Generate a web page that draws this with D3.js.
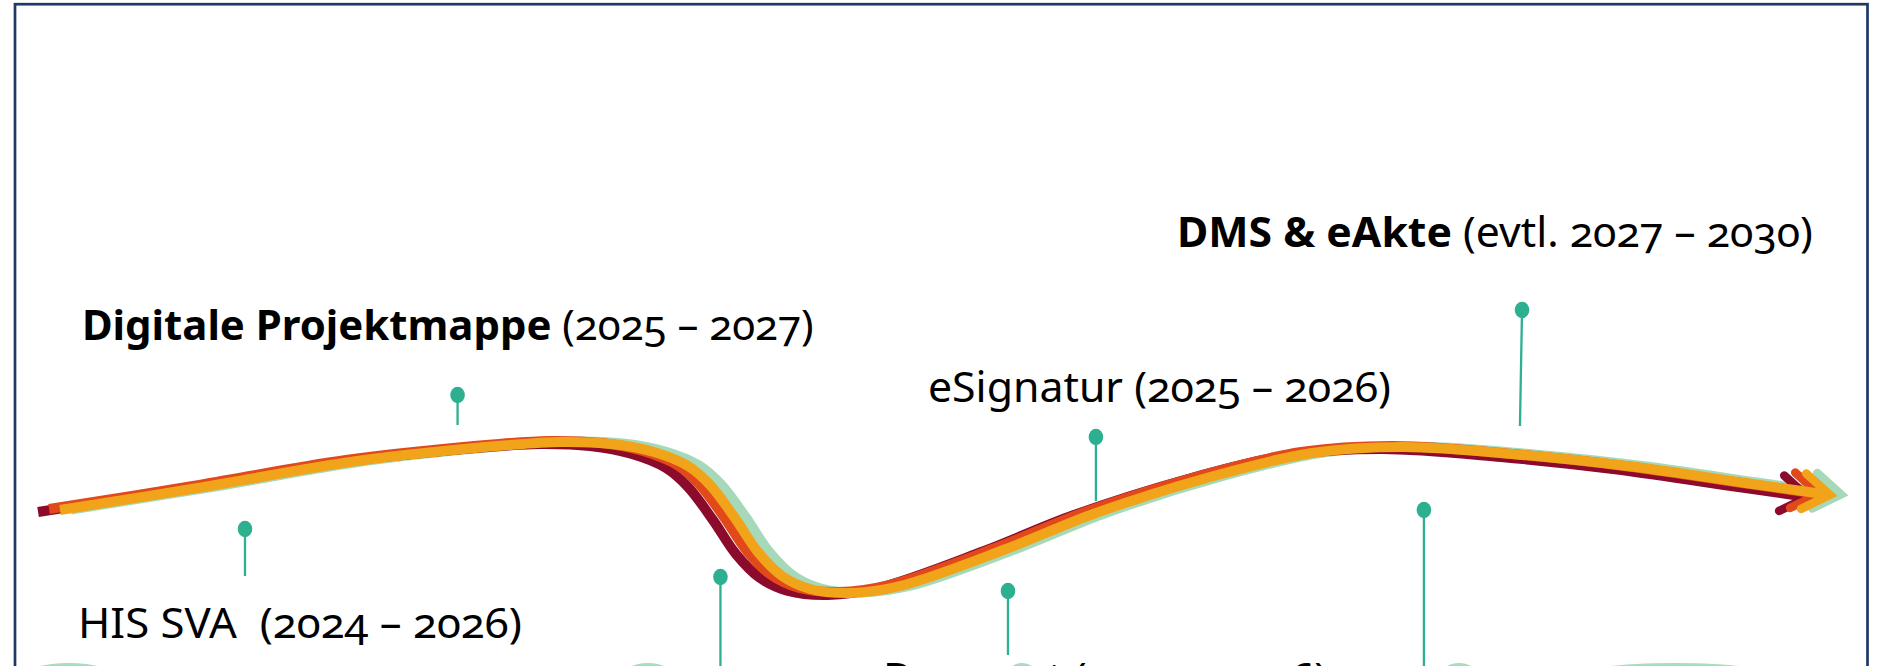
<!DOCTYPE html>
<html lang="de">
<head>
<meta charset="utf-8">
<script src="https://cdn.jsdelivr.net/npm/d3@7/dist/d3.min.js"></script>
<style>
html,body{margin:0;padding:0;background:#fff;overflow:hidden;}
svg{display:block;}
text{font-family:"Noto Sans","Open Sans",Lato,sans-serif;white-space:pre;font-variant-numeric:oldstyle-nums;font-feature-settings:"onum" 1;fill:#000;}
</style>
</head>
<body>
<svg id="chart" width="1883" height="666"></svg>
<script>
// ---------- Data (illustration units: x = 0–100 across the slide, y = 0–100 height) ----------
const roadProgress = [3.19,10.83,18.96,27.08,29.79,32.50,34.73,36.54,37.71,39.03,40.25,41.53,43.02,45.14,47.80,53.43,58.20,64.26,69.68,74.56,80.88,86.83,92.72,97.18];
const roadHeight   = [23.42,26.88,30.78,33.18,33.63,33.33,32.13,30.03,27.18,22.22,17.12,13.51,11.56,10.96,12.01,17.57,22.97,28.38,31.98,32.88,31.68,29.88,27.48,25.68];

const projectNames   = ["Digitale Projektmappe", "eSignatur", "DMS & eAkte", "HIS SVA ", "Dezernat"];
const projectPeriods = ["(2025 – 2027)", "(2025 – 2026)", "(evtl. 2027 – 2030)", "(2024 – 2026)", "(2025 – 2026)"];
const projectBold    = [true, false, true, false, false];

const pinProgress     = [24.30, 13.01, 38.26, 58.20, 53.53, 75.62, 80.83];
const pinFootProgress = [24.30, 13.01, 38.26, 58.20, 53.53, 75.62, 80.72];
const pinHead         = [40.69, 20.57, 13.36, 34.38, 11.26, 23.42, 53.45];
const pinFoot         = [36.19, 13.51, -2.00, 24.77,  1.65, -2.00, 36.04];

const blobProgress = [3.66, 34.41, 54.28, 77.48, 88.95];
const blobSpan     = [2.40, 1.35, 0.80, 1.00, 5.40];

// ---------- Layout & style ----------
const W = 1883, H = 666;
const x = d3.scaleLinear().domain([0, 100]).range([0, W]);
const y = d3.scaleLinear().domain([0, 100]).range([H, 0]);

const labelLayout = [ // [x, baseline, width] in illustration units
  [4.35, 48.95, 38.87],
  [49.28, 39.64, 24.59],
  [62.51, 62.91, 33.78],
  [4.14, 4.20, 23.58],
  [46.89, -4.05, 23.58]
];
const labelSize = 42;

const lanes = [ // drawn back to front
  {color: "#a6d9b9", dx: 11,  dy: -0.5},
  {color: "#8c0b2d", dx: -22, dy: 2},
  {color: "#e1491b", dx: -11, dy: -1},
  {color: "#f1a31a", dx: 0,   dy: 0}
];

const svg = d3.select("#chart");
svg.append("rect").attr("width", W).attr("height", H).attr("fill", "#fff");

// bottom green shapes
svg.append("g").selectAll("ellipse")
  .data(blobProgress)
  .join("ellipse")
  .attr("cx", d => x(d))
  .attr("cy", 676)
  .attr("rx", (d, i) => x(blobSpan[i]))
  .attr("ry", 13)
  .attr("fill", "#a9dcbc");

// frame
svg.append("rect")
  .attr("x", 15).attr("y", 4.2)
  .attr("width", 1852.5).attr("height", 720)
  .attr("fill", "none")
  .attr("stroke", "#1f3864")
  .attr("stroke-width", 2.7);

// road
const roadPts = roadProgress.map((p, i) => [p, roadHeight[i]]);
const line = d3.line()
  .x(d => x(d[0]))
  .y(d => y(d[1]))
  .curve(d3.curveCatmullRom.alpha(0.5));

const road = svg.append("g");
lanes.forEach(l => {
  const g = road.append("g").attr("transform", `translate(${l.dx},${l.dy})`);
  const p = g.append("path")
    .attr("d", line(roadPts))
    .attr("fill", "none")
    .attr("stroke", l.color)
    .attr("stroke-width", 10)
    .attr("stroke-linecap", "butt");
  const node = p.node();
  const L = node.getTotalLength();
  const tip = node.getPointAtLength(L);
  const back = node.getPointAtLength(L - 12);
  const ang = Math.atan2(tip.y - back.y, tip.x - back.x);
  const arm = 32, spread = 34 * Math.PI / 180;
  const a1 = [tip.x - arm * Math.cos(ang - spread), tip.y - arm * Math.sin(ang - spread)];
  const a2 = [tip.x - arm * Math.cos(ang + spread), tip.y - arm * Math.sin(ang + spread)];
  g.append("path")
    .attr("d", `M${a1[0]},${a1[1]}L${tip.x},${tip.y}L${a2[0]},${a2[1]}`)
    .attr("fill", "none")
    .attr("stroke", l.color)
    .attr("stroke-width", 8.5)
    .attr("stroke-linecap", "round")
    .attr("stroke-linejoin", "miter");
});

// pins
const pins = svg.append("g");
pinProgress.forEach((p, i) => {
  pins.append("line")
    .attr("x1", x(p)).attr("y1", y(pinHead[i]))
    .attr("x2", x(pinFootProgress[i])).attr("y2", y(pinFoot[i]))
    .attr("stroke", "#2db08f").attr("stroke-width", 2.3);
  pins.append("ellipse")
    .attr("cx", x(p)).attr("cy", y(pinHead[i]))
    .attr("rx", 7.3).attr("ry", 8.2)
    .attr("fill", "#2db08f");
});

// labels: fixed size, squeezed horizontally to the measured width
const labels = svg.append("g");
projectNames.forEach((name, i) => {
  const [lx, lb, lw] = labelLayout[i];
  const g = labels.append("g");
  const t = g.append("text").attr("x", 0).attr("y", 0).attr("font-size", labelSize);
  t.append("tspan").attr("font-weight", projectBold[i] ? 700 : 400).text(name);
  t.append("tspan").attr("font-weight", 400).text(" " + projectPeriods[i]);
  const w = t.node().getComputedTextLength();
  const sx = (x(lw) - x(0)) / w;
  g.attr("transform", `translate(${x(lx)},${y(lb)}) scale(${sx},1)`);
});
</script>
</body>
</html>
